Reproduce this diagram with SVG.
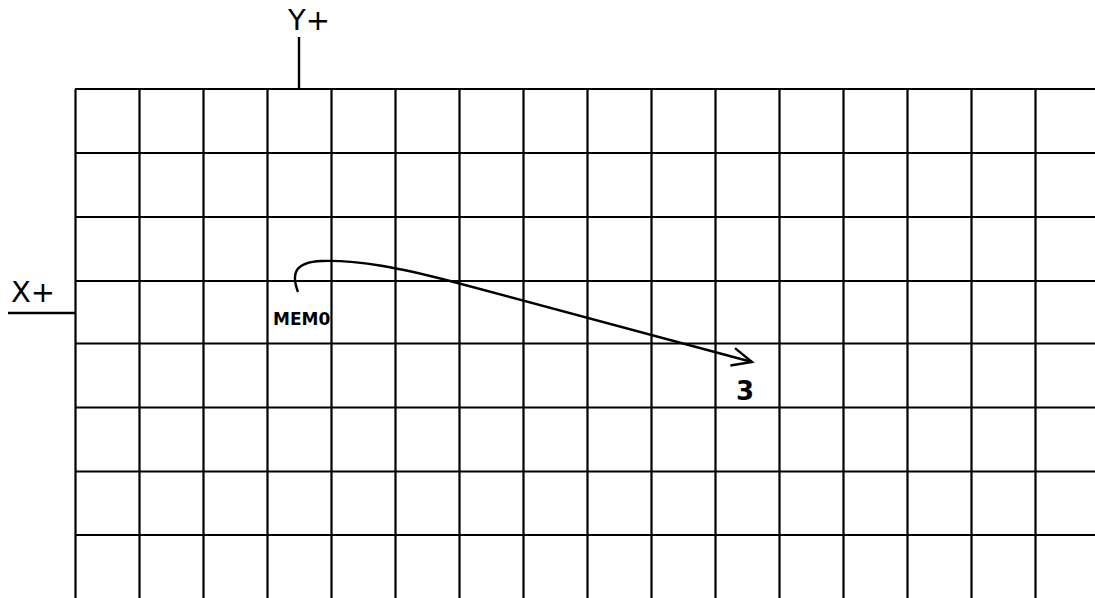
<svg xmlns="http://www.w3.org/2000/svg" width="1095" height="598" viewBox="0 0 1095 598">
<style>
.g{stroke:#000;stroke-width:2.2;fill:none}
.ax{stroke:#000;stroke-width:2.4;fill:none}
.lbl{font-family:"DejaVu Sans",sans-serif;font-size:29px;fill:#000}
.b{font-family:"DejaVu Sans",sans-serif;font-weight:bold;fill:#000}
</style>
<defs>
<marker id="arr" markerUnits="userSpaceOnUse" markerWidth="30" markerHeight="30" refX="0" refY="0" viewBox="-25 -15 30 30" orient="auto" overflow="visible">
<path d="M-20,-9 L0,0 L-20,9" fill="none" stroke="#000" stroke-width="2.4"/>
</marker>
</defs>
<rect width="1095" height="598" fill="#fff"/>
<g id="grid" class="g">
<path d="M75.5,89V598M139.5,89V598M203.5,89V598M267.5,89V598M331.5,89V598M395.5,89V598M459.5,89V598M523.5,89V598M587.5,89V598M651.5,89V598M715.5,89V598M779.5,89V598M843.5,89V598M907.5,89V598M971.5,89V598M1035.5,89V598"/>
<path d="M75,89H1095M75,153H1095M75,217H1095M75,281H1095M75,343.5H1095M75,407.5H1095M75,471.5H1095M75,535H1095"/>
</g>
<g id="axis-y">
<line class="ax" x1="299" y1="37" x2="299" y2="89"/>
<text class="lbl" x="288" y="30">Y+</text>
</g>
<g id="axis-x">
<line class="ax" x1="8" y1="313" x2="75" y2="313"/>
<text class="lbl" x="11" y="302">X+</text>
</g>
<g id="mem0">
<text class="b" x="273" y="325" font-size="17">MEM0</text>
</g>
<g id="target3">
<text class="b" x="736" y="400" font-size="26">3</text>
</g>
<g id="connectors">
<path class="ax" d="M298,292 C292,276 292,262 322,261 C360,260 400,268 450,281 L752,362" marker-end="url(#arr)"/>
</g>
</svg>
